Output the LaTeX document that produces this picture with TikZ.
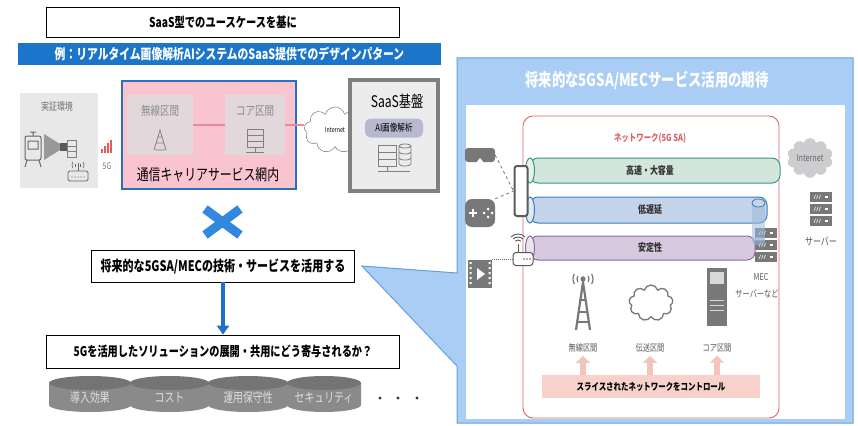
\documentclass[tikz,border=0pt]{standalone}
\usepackage{fontspec}
\setmainfont{Noto Sans CJK JP}[FakeStretch=0.76]
\usetikzlibrary{positioning, arrows.meta, shapes.symbols}

\definecolor{bannerblue}{RGB}{27,117,201}
\definecolor{fieldgray}{RGB}{232,232,232}
\definecolor{carrierpink}{RGB}{249,196,208}
\definecolor{carrierblue}{RGB}{43,111,192}
\definecolor{secgray}{RGB}{226,216,219}
\definecolor{linkpink}{RGB}{232,138,152}
\definecolor{saasgray}{RGB}{128,128,128}
\definecolor{saasfill}{RGB}{236,236,236}
\definecolor{aipill}{RGB}{184,184,208}
\definecolor{xblue}{RGB}{50,136,224}
\definecolor{arrowblue}{RGB}{31,111,201}
\definecolor{diskgray}{RGB}{138,138,138}
\definecolor{disktop}{RGB}{116,116,116}
\definecolor{disktext}{RGB}{222,222,222}
\definecolor{panelblue}{RGB}{170,205,245}
\definecolor{panelline}{RGB}{100,160,224}
\definecolor{netred}{RGB}{222,100,100}
\definecolor{greenfill}{RGB}{210,230,220}
\definecolor{greenline}{RGB}{60,150,135}
\definecolor{bluefill}{RGB}{196,212,234}
\definecolor{blueline}{RGB}{60,125,185}
\definecolor{purplefill}{RGB}{216,200,222}
\definecolor{purpleline}{RGB}{140,110,155}
\definecolor{icongray}{RGB}{120,120,120}
\definecolor{phonegray}{RGB}{90,90,90}
\definecolor{cloudgray}{RGB}{205,205,208}
\definecolor{ctrlpink}{RGB}{246,210,202}
\definecolor{arrowpink}{RGB}{242,196,186}
\definecolor{sigred}{RGB}{230,90,90}

\newcommand{\fsz}[1]{\fontsize{#1}{#1}\selectfont}

\begin{document}
\begin{tikzpicture}[x=1pt, y=-1pt,
    hdrbox/.style={draw=black, fill=white, line width=0.8pt, font=\bfseries\fsz{13.5}},
    secbox/.style={fill=secgray, minimum width=64pt, minimum height=60pt},
    seclabel/.style={text=black!45, font=\fsz{12.5}},
    icon/.style={draw=black!50, line width=0.8pt},
    pipelabel/.style={font=\bfseries\fsz{10.5}, text=black!80},
    graylbl/.style={text=black!65, font=\fsz{9.5}}]
\useasboundingbox (0,0) rectangle (858,425);

% ---- use case (left) ----
\node (base) [hdrbox, minimum width=353pt, minimum height=30pt] at (223,22) {SaaS型でのユースケースを基に};
\node (banner) [fill=bannerblue, text=white, minimum width=423pt, minimum height=22pt, font=\bfseries\fsz{14.2}] at (229.5,54) {例：リアルタイム画像解析AIシステムのSaaS提供でのデザインパターン};

% field test site
\node (field) [fill=fieldgray, minimum width=78pt, minimum height=95pt] at (59,140.5) {};
\node (fieldlbl) [text=black!55, font=\fsz{10.5}] at (57,107) {実証環境};
\draw[draw=black!60, line width=1pt, rounded corners=2pt] (25,136) rectangle (41,160);
\draw[draw=black!60, line width=1pt] (28,141) rectangle (38,149) (30,132) -- (36,132) (33,132) -- (33,136) (27,160) -- (25,167) (39,160) -- (41,167);
\fill[black!40] (44,134) -- (60,144) -- (60,150) -- (44,160) -- cycle;
\fill[black!65] (60,143) rectangle (67,151);
\draw[icon] (67,140) rectangle (76,157) (67,146) -- (76,146) (67,151) -- (76,151);
\draw[draw=black!60, line width=0.9pt, rounded corners=1.5pt] (68,171) rectangle (88,181);
\draw[draw=black!60, line width=0.8pt] (78,171) -- (78,163);
\foreach \r in {3,6} {
  \draw[draw=black!60, line width=0.6pt] ([shift={(150:\r)}]78,165) arc [start angle=150, end angle=210, radius=\r];
  \draw[draw=black!60, line width=0.6pt] ([shift={(-30:\r)}]78,165) arc [start angle=-30, end angle=30, radius=\r];
}
\foreach \k in {72,75,...,84} \fill[black!60] (\k,177) circle (0.7);
% 5G signal
\foreach \k/\h in {0/4,1/7,2/10,3/13} \fill[sigred] (101+3*\k,153) rectangle (103+3*\k,153-\h);
\node (fiveg) [text=black!55, font=\fsz{9}] at (107,166) {5G};

% carrier network
\node (carrier) [draw=carrierblue, line width=1.8pt, fill=carrierpink, minimum width=174pt, minimum height=108pt] at (209,135) {};
\node (radio) [secbox, minimum width=66pt] at (160,125) {};
\node (core) [secbox, minimum width=60pt] at (255,125) {};
\node (radiolbl) [seclabel] at (160,111) {無線区間};
\node (corelbl) [seclabel] at (255,111) {コア区間};
\draw[linkpink, line width=2.2pt] (radio.east) -- (core.west);
\draw[icon] (154,150) -- (160,130) -- (166,150) (156.5,143) -- (163.5,143) (158,137) -- (162,137) (155,150) -- (165,150);
\draw[icon] (247,129) rectangle (263,135) (247,135) rectangle (263,141) (247,141) rectangle (263,147) (255,147) -- (255,152) (246,152) -- (264,152);
\node (carrierlbl) [font=\fsz{15.6}] at (208,175) {通信キャリアサービス網内};

% internet and SaaS platform
\node (inet) [cloud, draw=black!60, fill=white, cloud puffs=9, aspect=1.5, minimum width=62pt, minimum height=46pt, inner sep=0pt, font=\fsz{7}] at (335,130) {Internet};
\draw[linkpink, line width=2.2pt] (core.east) -- (core.east -| inet.west);
\node (saas) [draw=saasgray, line width=3.5pt, fill=saasfill, minimum width=88pt, minimum height=111pt] at (394,135.5) {};
\node (saaslbl) [font=\fsz{16}] at (397,101) {SaaS基盤};
\node (ai) [fill=aipill, rounded corners=6pt, minimum width=58pt, minimum height=19pt, inner sep=0pt, font=\fsz{10}] at (394,128) {AI画像解析};
\draw[icon] (378,145) rectangle (396,152) (378,152) rectangle (396,159) (378,159) rectangle (396,166) (387,166) -- (387,171) (378,171) -- (410,171);
\draw[icon] (399,146) -- (399,164) (411,146) -- (411,164) (405,146) ellipse [x radius=6, y radius=2];
\draw[icon] (399,152) arc [start angle=180, end angle=0, x radius=6, y radius=2];
\draw[icon] (399,158) arc [start angle=180, end angle=0, x radius=6, y radius=2];
\draw[icon] (399,164) arc [start angle=180, end angle=0, x radius=6, y radius=2];

% cross, then the question chain
\draw[xblue, line width=9pt] (205,209) -- (240,235) (205,235) -- (240,209);
\node (use) [hdrbox, minimum width=263pt, minimum height=32pt, font=\bfseries\fsz{14.5}] at (223,266) {将来的な5GSA/MECの技術・サービスを活用する};
\node (ask) [hdrbox, minimum width=353pt, minimum height=33pt, font=\bfseries\fsz{13.4}] at (223,351.5) {5Gを活用したソリューションの展開・共用にどう寄与されるか？};
\draw[arrowblue, line width=3.5pt, -{Triangle[width=12pt, length=9pt]}] (use.south) -- (ask.north);

% evaluation disks
\foreach \i/\xa/\xb/\txt in {1/49/131/導入効果, 2/130/209/コスト, 3/208/288/運用保守性, 4/287/361/セキュリティ} {
  \pgfmathsetmacro\cx{(\xa+\xb)/2}
  \pgfmathsetmacro\rx{(\xb-\xa)/2}
  \fill[diskgray] (\xa,383) -- (\xa,405) arc [start angle=180, end angle=0, x radius=\rx, y radius=7] -- (\xb,383) -- cycle;
  \fill[disktop] (\cx,383) ellipse [x radius=\rx, y radius=7];
  \node (d\i) [text=disktext, font=\fsz{13}] at (\cx,398) {\txt};
}
\foreach \x in {380,398,417} \fill[black!80] (\x,398) circle (1.6);

% ---- expectation panel (right) ----
\draw[draw=panelline, fill=panelblue, line width=1pt] (457,58) -- (853,58) -- (853,423) -- (457,423) -- (457,366) -- ([xshift=7pt]use.east) -- (457,273) -- cycle;
\fill[white] (466,105) rectangle (845,419);
\node (paneltitle) [text=white, font=\bfseries\fsz{17.6}] at (647,80) {将来的な5GSA/MECサービス活用の期待};
\draw[netred, line width=0.9pt, rounded corners=10pt] (523,116) rectangle (779,418);
\node (nettitle) [text=netred, font=\bfseries\fsz{9.8}] at (650,138) {ネットワーク(5G SA)};

% MEC servers behind the slices
\foreach \k in {0,1,2} {
  \fill[icongray] (755,228+12*\k) rectangle (777,238+12*\k);
  \fill[white] (770,232+12*\k) rectangle (773,234+12*\k);
  \draw[white, line width=0.5pt] (759,235+12*\k) -- (760.5,231+12*\k) (761.5,235+12*\k) -- (763,231+12*\k) (764,235+12*\k) -- (765.5,231+12*\k);
}
% network slices
\foreach \n/\ya/\yb/\xb/\fc/\lc/\txt in {fast/158/183/780/greenfill/greenline/高速・大容量, low/197/223/767/bluefill/blueline/低遅延, stable/236/260/755/purplefill/purpleline/安定性} {
  \pgfmathsetmacro\yc{(\ya+\yb)/2}
  \pgfmathsetmacro\ry{(\yb-\ya)/2}
  \draw[draw=\lc, fill=\fc, line width=1pt, rounded corners=8pt] (530,\ya) rectangle (\xb,\yb);
  \draw[draw=\lc, fill=\fc!50!white, line width=1pt] (530,\yc) ellipse [x radius=4.5, y radius=\ry];
  \node (\n) [pipelabel] at (650,\yc) {\txt};
}
\fill[bluefill!70!blueline, opacity=0.55] (752,203) rectangle (765,241);
\fill[bluefill!70!blueline, opacity=0.55] (758.5,241) ellipse [x radius=6.5, y radius=4];
\draw[blueline, fill=bluefill, line width=0.8pt] (758.5,203) ellipse [x radius=6.5, y radius=4];
\node (meclbl) [graylbl] at (761,277) {MEC};
\node (mecsrv) [graylbl] at (757,294) {サーバーなど};

% internet and servers outside
\node (cloudnet) [cloud, fill=cloudgray, cloud puffs=10, aspect=1.2, minimum width=46pt, minimum height=40pt, inner sep=0pt, text=black!60, font=\fsz{9.5}] at (810,158) {Internet};
\foreach \k in {0,1,2} {
  \fill[icongray] (810,192+12*\k) rectangle (832,202+12*\k);
  \fill[white] (825,196+12*\k) rectangle (828,198+12*\k);
  \draw[white, line width=0.5pt] (814,199+12*\k) -- (815.5,195+12*\k) (816.5,199+12*\k) -- (818,195+12*\k) (819,199+12*\k) -- (820.5,195+12*\k);
}
\node (srvlbl) [graylbl, font=\fsz{10.5}] at (821,241) {サーバー};

% terminals
\node (goggle) [fill=icongray, rounded corners=3pt, minimum width=30pt, minimum height=14pt, inner sep=0pt] at (480,155) {};
\fill[white] (476,163) -- (480,158) -- (484,163) -- cycle;
\node (pad) [fill=icongray, rounded corners=7pt, minimum width=30pt, minimum height=28pt, inner sep=0pt] at (480,213) {};
\draw[white, line width=2pt] (469,213) -- (477,213) (473,209) -- (473,217);
\fill[white] (488,209) circle (1.5) (488,217) circle (1.5) (484,213) circle (1.5) (492,213) circle (1.5);
\node (film) [fill=icongray, minimum width=24pt, minimum height=28pt, inner sep=0pt] at (480,274) {};
\fill[white] (477,268) -- (477,280) -- (485,274) -- cycle;
\foreach \k in {0,...,4} \fill[white] (469.5,262+5*\k) rectangle (471.5,264+5*\k) (488.5,262+5*\k) rectangle (490.5,264+5*\k);
\node (phone) [draw=phonegray, line width=2pt, fill=white, rounded corners=2.5pt, minimum width=13pt, minimum height=50pt, inner sep=0pt] at (521,191) {};
\draw[dashed, black!60, line width=0.7pt] (goggle.east) -- (phone.west);
\draw[dashed, black!60, line width=0.7pt] (pad.north east) -- (phone.west);
\node (router) [draw=phonegray, line width=1pt, fill=white, rounded corners=3pt, minimum width=20pt, minimum height=13pt, inner sep=0pt] at (523,259) {};
\foreach \k in {-3,0,3} \fill[phonegray] (527+\k,259) circle (0.9);
\draw[phonegray, line width=0.8pt] (518,252.5) -- (518,244);
\foreach \r in {4,7,10} \draw[phonegray, line width=0.9pt] ([shift={(225:\r)}]518,244) arc [start angle=225, end angle=315, radius=\r];
\draw[densely dotted, black!60, line width=1pt] (film.east |- router.west) -- (router.west);

% network sections
\draw[icongray, line width=2.2pt] (576,330) -- (583,282) -- (590,330);
\draw[icongray, line width=1.5pt] (580,300) -- (586,300) (579,312) -- (587,312) (577.5,322) -- (588.5,322);
\fill[icongray] (583,279) circle (2.5);
\foreach \r in {6,10} {
  \draw[icongray, line width=1.2pt] ([shift={(150:\r)}]583,279) arc [start angle=150, end angle=210, radius=\r];
  \draw[icongray, line width=1.2pt] ([shift={(-30:\r)}]583,279) arc [start angle=-30, end angle=30, radius=\r];
}
\node (relay) [cloud, draw=icongray, line width=1.3pt, cloud puffs=9, aspect=1.25, minimum width=44pt, minimum height=36pt, inner sep=0pt] at (651,303) {};
\node (tower) [fill=icongray, minimum width=20pt, minimum height=58pt, inner sep=0pt] at (717,297) {};
\fill[black!15] (710,272) rectangle (724,284);
\draw[black!15, line width=1pt] (710,300) -- (724,300) (710,305) -- (724,305) (710,310) -- (724,310);
\node (lblradio) [graylbl] at (583,348) {無線区間};
\node (lblrelay) [graylbl] at (650,348) {伝送区間};
\node (lblcore) [graylbl] at (717,348) {コア区間};
\node (ctrl) [fill=ctrlpink, minimum width=218pt, minimum height=23pt, font=\bfseries\fsz{9.8}] at (651,386.5) {スライスされたネットワークをコントロール};
\foreach \n in {lblradio, lblrelay, lblcore}
  \draw[arrowpink, line width=6pt, -{Triangle[width=14pt, length=7pt]}] (ctrl.north -| \n) -- (\n.south);

\end{tikzpicture}
\end{document}
